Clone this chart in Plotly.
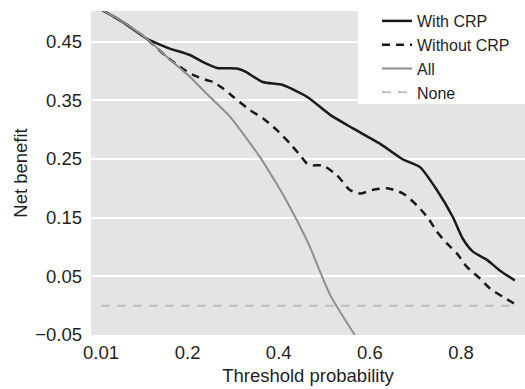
import plotly.graph_objects as go

# Threshold probabilities and net benefit values
x_all = [0.010, 0.059, 0.110, 0.154, 0.205, 0.242, 0.293, 0.359, 0.388, 0.414, 0.465, 0.513, 0.567]
y_all = [0.505, 0.483, 0.455, 0.424, 0.390, 0.361, 0.322, 0.253, 0.217, 0.183, 0.106, 0.018, -0.050]

x_with = [0.010, 0.058, 0.110, 0.118, 0.161, 0.205, 0.234, 0.265, 0.308, 0.326, 0.365, 0.409,
          0.462, 0.513, 0.563, 0.622, 0.673, 0.710, 0.747, 0.782, 0.804, 0.826, 0.857, 0.885, 0.918]
y_with = [0.505, 0.483, 0.455, 0.452, 0.438, 0.427, 0.415, 0.405, 0.404, 0.399, 0.381, 0.376,
          0.356, 0.325, 0.302, 0.276, 0.249, 0.236, 0.197, 0.151, 0.114, 0.092, 0.078, 0.060, 0.043]

x_without = [0.010, 0.058, 0.110, 0.154, 0.183, 0.212, 0.243, 0.256, 0.278, 0.300, 0.337, 0.366,
             0.396, 0.425, 0.447, 0.462, 0.475, 0.497, 0.528, 0.556, 0.578, 0.605, 0.638, 0.673,
             0.703, 0.728, 0.747, 0.769, 0.791, 0.813, 0.842, 0.864, 0.892, 0.918]
y_without = [0.505, 0.483, 0.455, 0.424, 0.407, 0.393, 0.384, 0.381, 0.370, 0.356, 0.333, 0.319,
             0.299, 0.276, 0.256, 0.242, 0.239, 0.239, 0.222, 0.197, 0.191, 0.197, 0.200, 0.191,
             0.171, 0.149, 0.126, 0.106, 0.089, 0.066, 0.046, 0.029, 0.015, 0.003]

x_none = [0.010, 0.918]
y_none = [0.0, 0.0]

x_ticks = [0.01, 0.2, 0.4, 0.6, 0.8]
x_ticktext = ["0.01", "0.2", "0.4", "0.6", "0.8"]
y_ticks = [-0.05, 0.05, 0.15, 0.25, 0.35, 0.45]
y_ticktext = ["\u22120.05", "0.05", "0.15", "0.25", "0.35", "0.45"]

FONT = "Liberation Sans, Arial, Helvetica, sans-serif"
TXT = "#1f1f1f"

fig = go.Figure()
fig.add_trace(go.Scatter(x=x_with, y=y_with, mode="lines", name="With CRP",
                         line=dict(color="#1a1a1a", width=2.5, shape="spline", smoothing=0.6)))
fig.add_trace(go.Scatter(x=x_without, y=y_without, mode="lines", name="Without CRP",
                         line=dict(color="#1a1a1a", width=2.5, dash="8px,6px", shape="spline", smoothing=0.6)))
fig.add_trace(go.Scatter(x=x_all, y=y_all, mode="lines", name="All",
                         line=dict(color="#8e8e8e", width=2, shape="spline", smoothing=0.6)))
fig.add_trace(go.Scatter(x=x_none, y=y_none, mode="lines", name="None",
                         line=dict(color="#bdbdbd", width=2, dash="9px,7px")))

# white box behind the legend (paper coordinates)
fig.add_shape(type="rect", xref="paper", yref="paper",
              x0=(358 - 91) / 434, x1=1.0, y0=1 - (104 - 11) / 324, y1=1 + 11 / 324,
              fillcolor="white", line=dict(width=0), layer="above")

fig.update_layout(
    width=525, height=389,
    margin=dict(l=91, r=0, t=11, b=54),
    paper_bgcolor="white",
    plot_bgcolor="#e4e4e6",
    font=dict(family=FONT, size=17, color=TXT),
    showlegend=True,
    legend=dict(x=(377 - 91) / 434, xanchor="left", y=1 + 7 / 324, yanchor="top",
                bgcolor="rgba(0,0,0,0)", borderwidth=0, itemwidth=30,
                font=dict(family=FONT, size=16, color=TXT),
                tracegroupgap=0),
    xaxis=dict(range=[-0.0119, 0.9404], tickvals=x_ticks, ticktext=x_ticktext,
               showgrid=False, zeroline=False, ticks="", showline=False,
               tickfont=dict(size=18.5), ticklabelstandoff=4,
               title=dict(text="Threshold probability", font=dict(size=18.5), standoff=7)),
    yaxis=dict(range=[-0.05, 0.502], tickvals=y_ticks, ticktext=y_ticktext,
               showgrid=True, gridcolor="white", gridwidth=1.5, zeroline=False,
               ticks="", showline=False, tickfont=dict(size=18.5), ticklabelstandoff=8,
               title=dict(text="Net benefit", font=dict(size=18.5), standoff=2)),
)

fig.write_html("out.html")
